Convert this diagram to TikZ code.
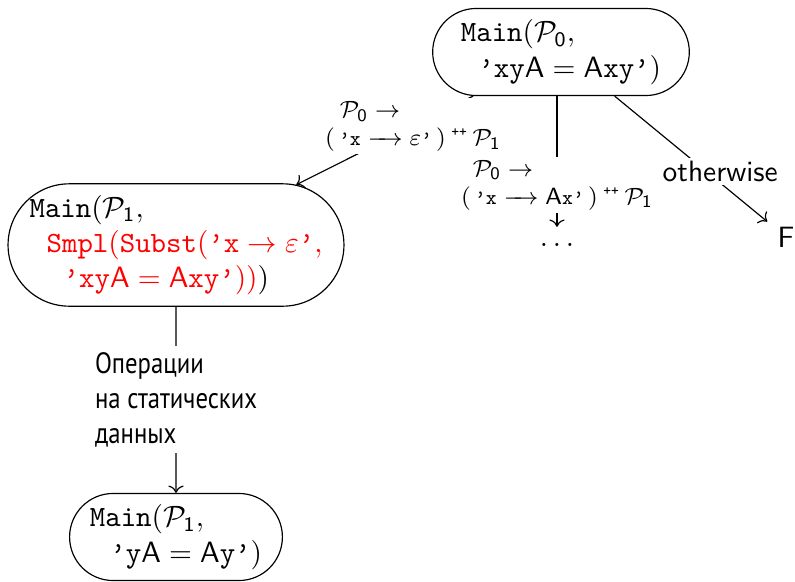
\documentclass[tikz,border=0pt]{standalone}
\usepackage{fontspec}
\usepackage{xcolor}
\usepackage{tikz}
\usetikzlibrary{arrows.meta,positioning,shapes.misc}
\newfontfamily\rusfont[FakeStretch=0.84]{PT Sans}
\newcommand{\tq}{\mbox{\ttfamily\textquoteright}}
\newcommand{\sq}{\mbox{\scriptsize\ttfamily\textquoteright}}
\newcommand{\sx}{\mbox{\fontsize{7}{7}\selectfont\ttfamily x}}
\newcommand{\lto}{\mathrel{\relbar\mkern-7mu\rightarrow}}
\newcommand{\pp}{\mathbin{\raisebox{3pt}{\fontsize{5}{5}\selectfont\ttfamily ++}}}
\tikzset{
  state/.style={rounded rectangle, draw, align=left, inner xsep=2pt, inner ysep=3.8pt},
  lbl/.style={font=\footnotesize, fill=white, inner sep=1pt, align=left}
}

\begin{document}
\begin{tikzpicture}[>=To, x=0.34pt, y=-0.34pt]
  \useasboundingbox (0,0) rectangle (795,582);

  % Define coordinates for nodes
  \node[state, inner xsep=4.7pt] (P0) at (561,52)
    {$\mathtt{Main}(\mathcal{P}_{\mathsf{0}},$\\
     \hspace*{6pt}$\tq\mathtt{xy}\mathsf{A}=\mathsf{A}\mathtt{xy}\tq)$};
  \node[state, inner xsep=-1.5pt] (P1) at (176,245)
    {$\mathtt{Main}(\mathcal{P}_{\mathsf{1}},$\\
     \hspace*{5.8pt}\textcolor{red}{$\mathtt{Smpl}(\mathtt{Subst}(\tq\mathtt{x}\to\varepsilon\tq,$}\\
     \hspace*{11.6pt}$\textcolor{red}{\tq\mathtt{xy}\mathsf{A}=\mathsf{A}\mathtt{xy}\tq))})$};
  \node[state] (P2) at (176,537)
    {$\mathtt{Main}(\mathcal{P}_{\mathsf{1}},$\\
     \hspace*{7pt}$\tq\mathtt{y}\mathsf{A}=\mathsf{A}\mathtt{y}\tq)$};
  \node[anchor=base, text height=3pt, text depth=0pt] (dots) at (557,246) {$\dots$};
  \node[font=\sffamily] (F) at (786,237) {F};

  % Draw arrows between nodes
  \draw[->] (P0) to node[lbl, pos=0.34]
    {\hspace*{5pt}$\mathcal{P}_{\mathsf{0}}\to$\\
     $(\,\sq\sx\lto\varepsilon\sq\,)\pp\mathcal{P}_{\mathsf{1}}$} (P1);
  \draw[->] (P0.south -| dots) to node[lbl, pos=0.68]
    {\hspace*{4pt}$\mathcal{P}_{\mathsf{0}}\to$\\
     $(\,\sq\sx\lto\mathsf{A}\sx\sq\,)\pp\mathcal{P}_{\mathsf{1}}$} (dots);
  \draw[->] (P0) to node[lbl, font=\normalsize\sffamily, pos=0.53, xshift=8.4pt, yshift=-3pt] {otherwise} (F);
  \draw[->] (P1) to node[lbl, font=\normalsize\rusfont, inner sep=2pt]
    {Операции\\на статических\\данных} (P2);
\end{tikzpicture}
\end{document}
